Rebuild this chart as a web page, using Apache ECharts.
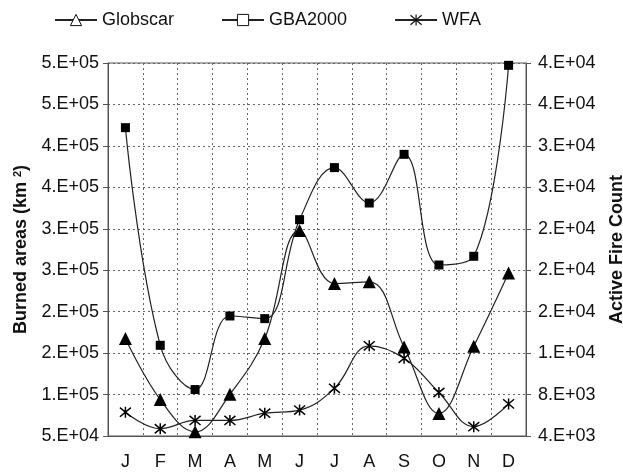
<!DOCTYPE html>
<html>
<head>
<meta charset="utf-8">
<script src="https://cdn.jsdelivr.net/npm/echarts@6/dist/echarts.min.js"></script>
<style>
    html, body { margin: 0; padding: 0; background: #ffffff; }
    #chart { width: 623px; height: 472px; }
</style>
</head>
<body>
<div id="chart"></div>
<script>
// 月份
const months = ['J', 'F', 'M', 'A', 'M', 'J', 'J', 'A', 'S', 'O', 'N', 'D'];
// 烧毁面积 (km2)
const globscar = [167500, 93900, 55000, 100300, 167500, 298000, 234000, 236000, 157400, 77000, 158200, 246600];
const gba2000 = [422000, 159400, 106000, 194800, 191600, 311000, 373800, 331100, 389800, 256300, 266800, 497200];
// 火点数
const wfa = [6300, 4700, 5500, 5500, 6200, 6500, 8600, 12700, 11500, 8200, 4900, 7100];
// 刻度标签
const leftTickLabels = ['5.E+04', '1.E+05', '2.E+05', '2.E+05', '3.E+05', '3.E+05', '4.E+05', '4.E+05', '5.E+05', '5.E+05'];
const rightTickLabels = ['4.E+03', '8.E+03', '1.E+04', '2.E+04', '2.E+04', '2.E+04', '3.E+04', '3.E+04', '4.E+04', '4.E+04'];

const font = 'Liberation Sans, Arial, sans-serif';
const axisColor = '#555';
const asterisk = 'path://M0,0L10,10M10,0L0,10M5,-1L5,11';

const myChart = echarts.init(document.getElementById('chart'), null, {renderer: 'canvas'});

myChart.setOption({
    animation: false,
    textStyle: {fontFamily: font, color: '#111'},
    grid: {
        left: 108, right: 97, top: 63, bottom: 36,
        outerBoundsMode: 'none',
        show: true, borderColor: axisColor, borderWidth: 1
    },
    legend: {
        top: 6,
        left: 49,
        itemWidth: 42,
        itemHeight: 14,
        itemGap: 47,
        textStyle: {fontSize: 18, color: '#111', fontFamily: font},
        data: [
            {name: 'Globscar', itemStyle: {color: '#fff', borderColor: '#111', borderWidth: 1}},
            {name: 'GBA2000', itemStyle: {color: '#fff', borderColor: '#111', borderWidth: 1}},
            {name: 'WFA', itemStyle: {color: '#fff', borderColor: '#111', borderWidth: 1.2}}
        ]
    },
    xAxis: {
        type: 'category',
        data: months,
        boundaryGap: true,
        axisLine: {lineStyle: {color: axisColor}},
        axisTick: {length: 5, lineStyle: {color: axisColor}},
        axisLabel: {fontSize: 18, color: '#111', margin: 17},
        splitLine: {show: true, lineStyle: {color: '#666', type: [2, 3], width: 1}}
    },
    yAxis: [
        {
            type: 'value',
            min: 50000, max: 500000, interval: 50000,
            name: 'Burned areas (km {sup|2})',
            nameLocation: 'middle',
            nameRotate: 90,
            nameGap: 77,
            nameTextStyle: {
                fontSize: 18, fontWeight: 'bold', color: '#111',
                rich: {sup: {fontSize: 11, fontWeight: 'bold', color: '#111', verticalAlign: 'top', padding: [0, 0, 8, 0]}}
            },
            axisLine: {show: true, lineStyle: {color: axisColor}},
            axisTick: {show: true, length: 5, lineStyle: {color: axisColor}},
            axisLabel: {
                fontSize: 18, color: '#111', margin: 9,
                formatter: function (v, i) { return leftTickLabels[i]; }
            },
            splitLine: {show: true, lineStyle: {color: '#666', type: [2, 3], width: 1}}
        },
        {
            type: 'value',
            min: 4000, max: 40000, interval: 4000,
            name: 'Active Fire Count',
            nameLocation: 'middle',
            nameRotate: 90,
            nameGap: 82,
            nameTextStyle: {fontSize: 18, fontWeight: 'bold', color: '#111'},
            axisLine: {show: true, lineStyle: {color: axisColor}},
            axisTick: {show: true, length: 5, lineStyle: {color: axisColor}},
            axisLabel: {
                fontSize: 18, color: '#111', margin: 12,
                formatter: function (v, i) { return rightTickLabels[i]; }
            },
            splitLine: {show: false}
        }
    ],
    series: [
        {
            name: 'Globscar',
            type: 'line',
            yAxisIndex: 0,
            data: globscar,
            smooth: 0.4,
            symbol: 'triangle',
            symbolSize: 13,
            itemStyle: {color: '#000'},
            lineStyle: {color: '#222', width: 1.2},
            z: 3
        },
        {
            name: 'GBA2000',
            type: 'line',
            yAxisIndex: 0,
            data: gba2000,
            smooth: 0.4,
            symbol: 'rect',
            symbolSize: 9,
            itemStyle: {color: '#000'},
            lineStyle: {color: '#222', width: 1.2},
            z: 3
        },
        {
            name: 'WFA',
            type: 'line',
            yAxisIndex: 1,
            data: wfa,
            smooth: 0.4,
            symbol: asterisk,
            symbolSize: 11,
            itemStyle: {color: '#000', borderColor: '#000', borderWidth: 1.5},
            lineStyle: {color: '#222', width: 1.2},
            z: 3
        }
    ]
});
</script>
</body>
</html>
